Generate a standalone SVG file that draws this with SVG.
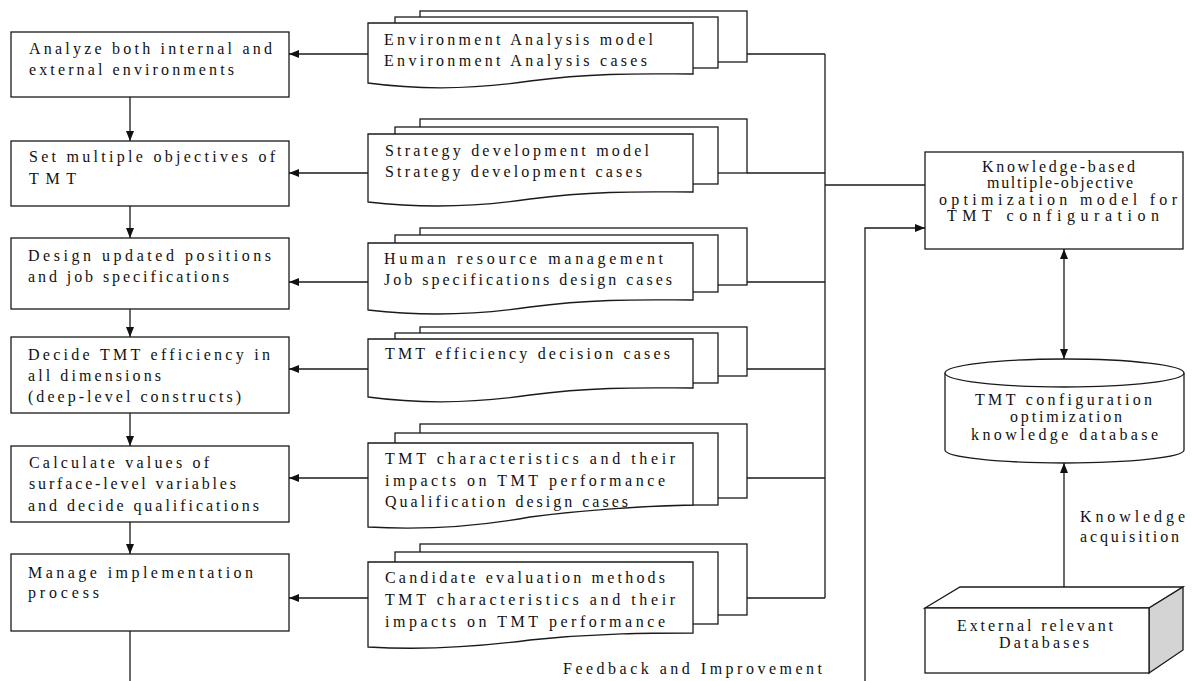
<svg xmlns="http://www.w3.org/2000/svg" width="1192" height="681" viewBox="0 0 1192 681">
<style>
.bx{fill:#fff;stroke:#1a1a1a;stroke-width:1.3}
.ln{fill:none;stroke:#1a1a1a;stroke-width:1.3}
text{font-family:"Liberation Serif","Times New Roman",serif;font-size:16px;fill:#111}
</style>
<defs>
<marker id="ah" markerWidth="10" markerHeight="8" refX="10" refY="4" orient="auto" markerUnits="userSpaceOnUse">
<path d="M0,0 L10,4 L0,8 Z" fill="#111"/>
</marker>
<marker id="ahs" markerWidth="10" markerHeight="8" refX="0" refY="4" orient="auto" markerUnits="userSpaceOnUse">
<path d="M10,0 L0,4 L10,8 Z" fill="#111"/>
</marker>
</defs>
<rect width="1192" height="681" fill="#fff"/>

<g id="connectors">
<line class="ln" x1="130" y1="97" x2="130" y2="141" marker-end="url(#ah)"/>
<line class="ln" x1="130" y1="206" x2="130" y2="238" marker-end="url(#ah)"/>
<line class="ln" x1="130" y1="309" x2="130" y2="337" marker-end="url(#ah)"/>
<line class="ln" x1="130" y1="413" x2="130" y2="446" marker-end="url(#ah)"/>
<line class="ln" x1="130" y1="522" x2="130" y2="554" marker-end="url(#ah)"/>
<line class="ln" x1="130" y1="631" x2="130" y2="681"/>
<line class="ln" x1="368" y1="54" x2="289" y2="54" marker-end="url(#ah)"/>
<line class="ln" x1="368" y1="173" x2="289" y2="173" marker-end="url(#ah)"/>
<line class="ln" x1="368" y1="282" x2="289" y2="282" marker-end="url(#ah)"/>
<line class="ln" x1="368" y1="369" x2="289" y2="369" marker-end="url(#ah)"/>
<line class="ln" x1="368" y1="478" x2="289" y2="478" marker-end="url(#ah)"/>
<line class="ln" x1="368" y1="598" x2="289" y2="598" marker-end="url(#ah)"/>
<line class="ln" x1="747" y1="54" x2="825" y2="54"/>
<line class="ln" x1="747" y1="173" x2="825" y2="173"/>
<line class="ln" x1="747" y1="282" x2="825" y2="282"/>
<line class="ln" x1="747" y1="369" x2="825" y2="369"/>
<line class="ln" x1="747" y1="478" x2="825" y2="478"/>
<line class="ln" x1="747" y1="598" x2="825" y2="598"/>
<line class="ln" x1="825" y1="54" x2="825" y2="598"/>
<line class="ln" x1="825" y1="185" x2="925" y2="185"/>
<polyline class="ln" points="865,681 865,228 925,228" marker-end="url(#ah)"/>
<line class="ln" x1="1064" y1="249" x2="1064" y2="359" marker-start="url(#ahs)" marker-end="url(#ah)"/>
<line class="ln" x1="1064" y1="587" x2="1064" y2="463" marker-end="url(#ah)"/>
</g>

<g id="step1"><rect class="bx" x="11" y="32" width="278" height="65"/>
<text x="29" y="54" textLength="243" lengthAdjust="spacing">Analyze both internal and</text>
<text x="29" y="75" textLength="205" lengthAdjust="spacing">external environments</text></g>
<g id="step2"><rect class="bx" x="11" y="141" width="278" height="65"/>
<text x="29" y="162" textLength="246" lengthAdjust="spacing">Set multiple objectives of</text>
<text x="29" y="184" textLength="47" lengthAdjust="spacing">TMT</text></g>
<g id="step3"><rect class="bx" x="11" y="238" width="278" height="71"/>
<text x="28" y="261" textLength="243" lengthAdjust="spacing">Design updated positions</text>
<text x="28" y="282" textLength="201" lengthAdjust="spacing">and job specifications</text></g>
<g id="step4"><rect class="bx" x="11" y="337" width="278" height="76"/>
<text x="28" y="360" textLength="242" lengthAdjust="spacing">Decide TMT efficiency in</text>
<text x="28" y="381" textLength="133" lengthAdjust="spacing">all dimensions</text>
<text x="28" y="402" textLength="213" lengthAdjust="spacing">(deep-level constructs)</text></g>
<g id="step5"><rect class="bx" x="11" y="446" width="278" height="76"/>
<text x="29" y="468" textLength="180" lengthAdjust="spacing">Calculate values of</text>
<text x="29" y="489" textLength="207" lengthAdjust="spacing">surface-level variables</text>
<text x="28" y="511" textLength="231" lengthAdjust="spacing">and decide qualifications</text></g>
<g id="step6"><rect class="bx" x="11" y="554" width="278" height="77"/>
<text x="28" y="578" textLength="225" lengthAdjust="spacing">Manage implementation</text>
<text x="28" y="598" textLength="71" lengthAdjust="spacing">process</text></g>

<g id="doc1">
<rect class="bx" x="420" y="11" width="327" height="51"/>
<rect class="bx" x="395" y="17" width="323" height="51"/>
<path class="bx" d="M368,23 H693 V74 C650,74 600,72 530,81 C470,90 420,90 368,83 Z"/>
<text x="384" y="45" textLength="269" lengthAdjust="spacing">Environment Analysis model</text>
<text x="384" y="66" textLength="263" lengthAdjust="spacing">Environment Analysis cases</text></g>
<g id="doc2">
<rect class="bx" x="420" y="119" width="327" height="54"/>
<rect class="bx" x="395" y="127" width="323" height="57"/>
<path class="bx" d="M368,134 H693 V192 C650,192 600,190 530,199 C470,208 420,208 368,202 Z"/>
<text x="385" y="156" textLength="264" lengthAdjust="spacing">Strategy development model</text>
<text x="385" y="177" textLength="257" lengthAdjust="spacing">Strategy development cases</text></g>
<g id="doc3">
<rect class="bx" x="420" y="228" width="327" height="57"/>
<rect class="bx" x="395" y="235" width="323" height="57"/>
<path class="bx" d="M368,243 H693 V300 C650,300 600,298 530,307 C470,316 420,316 368,310 Z"/>
<text x="384" y="264" textLength="279" lengthAdjust="spacing">Human resource management</text>
<text x="384" y="285" textLength="288" lengthAdjust="spacing">Job specifications design cases</text></g>
<g id="doc4">
<rect class="bx" x="420" y="327" width="327" height="49"/>
<rect class="bx" x="395" y="333" width="323" height="50"/>
<path class="bx" d="M368,339 H693 V388 C650,388 600,386 530,395 C470,404 420,404 368,397 Z"/>
<text x="385" y="359" textLength="285" lengthAdjust="spacing">TMT efficiency decision cases</text></g>
<g id="doc5">
<rect class="bx" x="420" y="424" width="327" height="74"/>
<rect class="bx" x="395" y="433" width="323" height="72"/>
<path class="bx" d="M368,443 H693 V505 C650,506 600,508 530,517 C470,528 420,530 368,527 Z"/>
<text x="385" y="464" textLength="290" lengthAdjust="spacing">TMT characteristics and their</text>
<text x="385" y="486" textLength="280" lengthAdjust="spacing">impacts on TMT performance</text>
<text x="385" y="507" textLength="243" lengthAdjust="spacing">Qualification design cases</text></g>
<g id="doc6">
<rect class="bx" x="420" y="544" width="327" height="71"/>
<rect class="bx" x="395" y="552" width="323" height="72"/>
<path class="bx" d="M368,562 H693 V633 C650,633 600,633 530,640 C470,648 420,650 368,647 Z"/>
<text x="385" y="583" textLength="280" lengthAdjust="spacing">Candidate evaluation methods</text>
<text x="385" y="605" textLength="290" lengthAdjust="spacing">TMT characteristics and their</text>
<text x="385" y="627" textLength="280" lengthAdjust="spacing">impacts on TMT performance</text></g>

<g id="feedback-label"><text x="563" y="674" textLength="259" lengthAdjust="spacing">Feedback and Improvement</text></g>

<g id="model"><rect class="bx" x="925" y="152" width="258" height="97"/>
<text x="982" y="172" textLength="153" lengthAdjust="spacing">Knowledge-based</text>
<text x="987" y="188" textLength="146" lengthAdjust="spacing">multiple-objective</text>
<text x="939" y="205" textLength="238" lengthAdjust="spacing">optimization model for</text>
<text x="947" y="221" textLength="212" lengthAdjust="spacing">TMT configuration</text></g>

<g id="kdb">
<path class="bx" d="M945,373 V450 A119.5,13 0 0 0 1184,450 V373"/>
<ellipse class="bx" cx="1064.5" cy="373" rx="119.5" ry="14"/>
<text x="975" y="405" textLength="177" lengthAdjust="spacing">TMT configuration</text>
<text x="1010" y="422" textLength="112" lengthAdjust="spacing">optimization</text>
<text x="971" y="440" textLength="187" lengthAdjust="spacing">knowledge database</text></g>

<g id="acq-label">
<text x="1080" y="522" textLength="105" lengthAdjust="spacing">Knowledge</text>
<text x="1080" y="542" textLength="99" lengthAdjust="spacing">acquisition</text></g>

<g id="extdb">
<polygon class="bx" points="925,608 960,587 1183,587 1149,608"/>
<polygon points="1149,608 1183,587 1183,650 1149,673" fill="#d4d4d4" stroke="#1a1a1a" stroke-width="1.3"/>
<rect class="bx" x="925" y="608" width="224" height="65"/>
<text x="957" y="631" textLength="156" lengthAdjust="spacing">External relevant</text>
<text x="999" y="648" textLength="90" lengthAdjust="spacing">Databases</text></g>
</svg>
